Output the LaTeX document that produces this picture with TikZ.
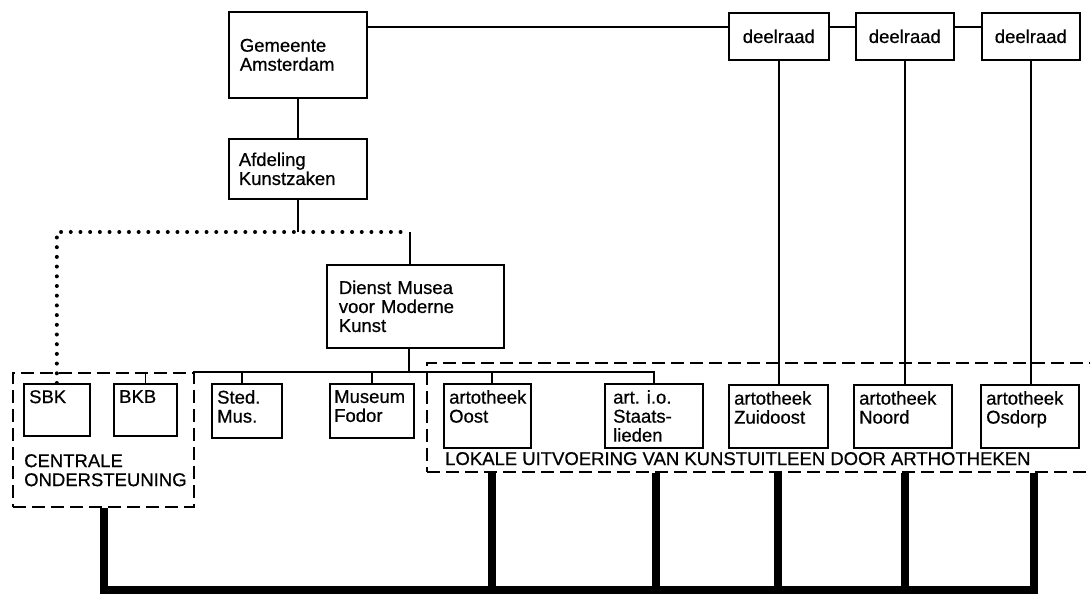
\documentclass[tikz,border=0pt]{standalone}
\usepackage{fontspec}
\setmainfont{Liberation Sans}[FakeBold=0.6]
\begin{document}
\begin{tikzpicture}[x=1pt,y=-1pt,
  every node/.style={font=\fontsize{18.5}{19}\selectfont},
  box/.style={draw, line width=1.7pt, anchor=north west, inner sep=0pt},
  topbox/.style={box, align=left, inner xsep=11pt},
  lbl/.style={anchor=north west, align=left, inner sep=0pt, xshift=6pt, yshift=-7pt},
  conn/.style={line width=1.5pt},
  frame/.style={draw, dash pattern=on 13pt off 6pt, line width=2.3pt, anchor=north west, inner sep=0pt},
  dots/.style={line width=4pt, line cap=round, dash pattern=on 0pt off 9.7pt},
  heavy/.style={line width=8pt}
]
\useasboundingbox (0,0) rectangle (1090,596);

% top boxes
\node[topbox, text width=116pt, minimum height=86pt] (gem) at (228,11) {Gemeente\\Amsterdam};
\node[topbox, inner xsep=10pt, text width=118pt, minimum height=60pt] (afd) at (228,138) {Afdeling\\Kunstzaken};
\node[topbox, inner xsep=12pt, text width=153pt, minimum height=83pt] (dienst) at (326,264) {Dienst Musea\\voor Moderne\\Kunst};

\node[box, minimum width=100pt, minimum height=47pt] (d1) at (728,12) {deelraad};
\node[box, minimum width=98pt, minimum height=47pt] (d2) at (855,12) {deelraad};
\node[box, minimum width=98pt, minimum height=47pt] (d3) at (981,12) {deelraad};

% bottom boxes
\node[box, minimum width=66pt, minimum height=52pt, label={[lbl]north west:SBK}] (sbk) at (23,383) {};
\node[box, minimum width=63pt, minimum height=52pt, label={[lbl]north west:BKB}] (bkb) at (113,383) {};
\node[box, minimum width=70pt, minimum height=54pt, label={[lbl]north west:{Sted.\\Mus.}}] (sted) at (211,383) {};
\node[box, minimum width=84pt, minimum height=54pt, label={[lbl, xshift=-1pt]north west:{Museum\\Fodor}}] (fodor) at (329,383) {};
\node[box, minimum width=87pt, minimum height=64pt, label={[lbl]north west:{artotheek\\Oost}}] (oost) at (443,383) {};
\node[box, minimum width=98pt, minimum height=64pt, label={[lbl, xshift=3pt]north west:{art. i.o.\\Staats-\\lieden}}] (staats) at (604,383) {};
\node[box, minimum width=99pt, minimum height=63pt, label={[lbl]north west:{artotheek\\Zuidoost}}] (zuid) at (728,384) {};
\node[box, minimum width=98pt, minimum height=63pt, label={[lbl]north west:{artotheek\\Noord}}] (noord) at (853,384) {};
\node[box, minimum width=98pt, minimum height=63pt, label={[lbl]north west:{artotheek\\Osdorp}}] (osdorp) at (980,384) {};

% group frames
\node[frame, minimum width=181pt, minimum height=134pt] (cen) at (12,372) {};
\node[anchor=north west, align=left, inner sep=0pt] (centxt) at (24,454) {CENTRALE\\ONDERSTEUNING};
\node[frame, minimum width=720pt, minimum height=109pt] (lok) at (426,362) {};
\node[anchor=base west, inner sep=0pt] (loktxt) at (445,465) {LOKALE UITVOERING VAN KUNSTUITLEEN DOOR ARTHOTHEKEN};

% top connectors
\coordinate (hl) at (0,27);
\draw[conn] (gem.east |- hl) -- (d1.west |- hl);
\draw[conn] (d1.east |- hl) -- (d2.west |- hl);
\draw[conn] (d2.east |- hl) -- (d3.west |- hl);
\draw[conn] (gem) -- (afd);
\coordinate (dj) at (410,232);
\draw[conn] (afd.south) -- (afd.south |- dj);
\draw[dots] (sbk.north) |- (dj);
\draw[conn] (dj) -- (dj |- dienst.north);

% thin bus
\coordinate (busL) at (193,372);
\draw[conn] (busL) -| (staats.north);
\coordinate (dc) at ([xshift=-6.5pt]dienst.south);
\draw[conn] (dc) -- (dc |- busL);
\draw[conn] (bkb.north) -- (bkb.north |- busL);
\coordinate (sc) at ([xshift=-5pt]sted.north);
\draw[conn] (sc) -- (sc |- busL);
\draw[conn] (fodor.north) -- (fodor.north |- busL);
\coordinate (oc) at ([xshift=4.5pt]oost.north);
\draw[conn] (oc) -- (oc |- busL);

% deelraad verticals
\draw[conn] (d1.south) -- (d1.south |- zuid.north);
\draw[conn] (d2.south) -- (d2.south |- noord.north);
\draw[conn] (d3.south) -- (d3.south |- osdorp.north);

% heavy lines
\coordinate (hb) at (0,590);
\coordinate (osc) at ([xshift=4pt]osdorp.south);
\coordinate (ooc) at ([xshift=4.5pt]oost.south);
\coordinate (stc) at ([xshift=2pt]staats.south);
\coordinate (noc) at ([xshift=2pt]noord.south);
\draw[heavy] (cen.south) |- (osc |- hb) -- (osc |- lok.south);
\draw[heavy] (ooc |- lok.south) -- (ooc |- hb);
\draw[heavy] (stc |- lok.south) -- (stc |- hb);
\draw[heavy] (zuid.south |- lok.south) -- (zuid.south |- hb);
\draw[heavy] (noc |- lok.south) -- (noc |- hb);
\end{tikzpicture}
\end{document}
